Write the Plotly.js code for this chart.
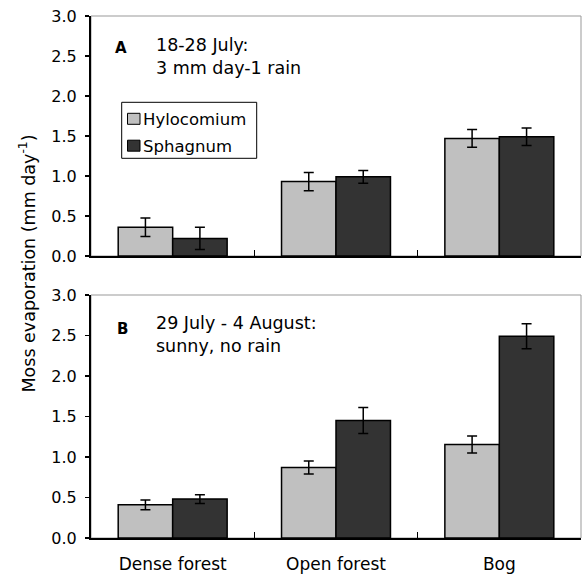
<!DOCTYPE html>
<html>
<head>
<meta charset="utf-8">
<script src="https://cdn.plot.ly/plotly-3.0.1.min.js"></script>
<style>html,body{margin:0;padding:0;background:#fff;}#chart{width:582px;height:574px;}</style>
</head>
<body>
<div id="chart"></div>
<script>
// ---- data ----
const categories = ['Dense forest', 'Open forest', 'Bog'];
const seriesNames = ['Hylocomium', 'Sphagnum'];
const seriesColors = ['#c0c0c0', '#333333'];

// Panel A: 18-28 July
const hyloA = [0.36, 0.93, 1.47];
const hyloAErr = [0.115, 0.115, 0.11];
const sphagA = [0.22, 0.99, 1.49];
const sphagAErr = [0.14, 0.08, 0.11];

// Panel B: 29 July - 4 August
const hyloB = [0.41, 0.87, 1.155];
const hyloBErr = [0.06, 0.08, 0.105];
const sphagB = [0.48, 1.45, 2.49];
const sphagBErr = [0.055, 0.16, 0.155];

const yTickVals = [0, 0.5, 1.0, 1.5, 2.0, 2.5, 3.0];
const yTickText = ['0.0', '0.5', '1.0', '1.5', '2.0', '2.5', '3.0'];

const panelA = {label: 'A', lines: ['18-28 July:', '3 mm day-1 rain']};
const panelB = {label: 'B', lines: ['29 July - 4 August:', 'sunny, no rain']};
const yTitle = 'Moss evaporation (mm day<sup>-1</sup>)';

// ---- layout helpers ----
const W = 582, H = 574;
const M = {l: 91, r: 1, t: 16, b: 36};
const PW = W - M.l - M.r, PH = H - M.t - M.b;
const px = x => (x - M.l) / PW;
const py = y => (H - M.b - y) / PH;

const FONT = 'DejaVu Sans, Arial, sans-serif';

function barTrace(y, err, i, xa, ya) {
  return {
    type: 'bar', x: categories, y: y, name: seriesNames[i],
    xaxis: xa, yaxis: ya, showlegend: false,
    marker: {color: seriesColors[i], line: {color: '#000', width: 1.5}},
    error_y: {type: 'data', array: err, visible: true, color: '#000', thickness: 1.5, width: 5}
  };
}

const data = [
  barTrace(hyloA, hyloAErr, 0, 'x', 'y'),
  barTrace(sphagA, sphagAErr, 1, 'x', 'y'),
  barTrace(hyloB, hyloBErr, 0, 'x2', 'y2'),
  barTrace(sphagB, sphagBErr, 1, 'x2', 'y2')
];

function xaxis(showLabels, anchor) {
  return {
    anchor: anchor, domain: [0, 1], type: 'category',
    range: [-0.5, 2.5], tickson: 'boundaries', ticks: 'inside', ticklen: 6,
    tickwidth: 1.5, tickcolor: '#000',
    showline: true, linecolor: '#000', linewidth: 2,
    showgrid: false, zeroline: false, showticklabels: showLabels,
    tickfont: {family: FONT, size: 17, color: '#000'},
    ticklabelstandoff: 10
  };
}
function yaxis(domain, anchor) {
  return {
    anchor: anchor, domain: domain, range: [0, 3],
    tickvals: yTickVals, ticktext: yTickText,
    ticks: 'outside', ticklen: 4, tickwidth: 1.5, tickcolor: '#000',
    showline: true, linecolor: '#000', linewidth: 2,
    showgrid: false, zeroline: false,
    tickfont: {family: FONT, size: 16, color: '#000'},
    ticklabelstandoff: 5
  };
}

const frame = (xr, yr) => ({
  type: 'rect', xref: xr + ' domain', yref: yr + ' domain',
  x0: 0, x1: 1, y0: 0, y1: 1, layer: 'below',
  line: {color: '#999', width: 1}
});

const shapes = [frame('x', 'y'), frame('x2', 'y2')];

// manual legend
shapes.push({type: 'rect', xref: 'paper', yref: 'paper',
  x0: px(121.7), x1: px(256.7), y0: py(158.3), y1: py(102.3),
  line: {color: '#000', width: 1}, fillcolor: '#fff'});
const legendRows = [118.8, 145.7];
seriesNames.forEach((n, i) => {
  shapes.push({type: 'rect', xref: 'paper', yref: 'paper',
    x0: px(127.5), x1: px(140), y0: py(legendRows[i] + 5.5), y1: py(legendRows[i] - 5.5),
    line: {color: '#000', width: 1}, fillcolor: seriesColors[i]});
});

const annotations = [];
seriesNames.forEach((n, i) => {
  annotations.push({xref: 'paper', yref: 'paper', x: px(141), y: py(legendRows[i] + 0.5),
    xanchor: 'left', yanchor: 'middle', showarrow: false, text: n,
    font: {family: FONT, size: 16.5, color: '#000'}});
});

function panelText(p, labelY, lineYs, labelX) {
  annotations.push({xref: 'paper', yref: 'paper', x: px(labelX), y: py(labelY),
    xanchor: 'center', yanchor: 'middle', showarrow: false, text: '<b>' + p.label + '</b>',
    font: {family: FONT, size: 15, color: '#000'}});
  p.lines.forEach((t, i) => {
    annotations.push({xref: 'paper', yref: 'paper', x: px(154), y: py(lineYs[i]),
      xanchor: 'left', yanchor: 'middle', showarrow: false, text: t,
      font: {family: FONT, size: 17.5, color: '#000'}});
  });
}
panelText(panelA, 48.5, [45, 68.5], 121);
panelText(panelB, 329, [322.5, 345.5], 122.5);

annotations.push({xref: 'paper', yref: 'paper', x: px(27.5), y: py(264),
  xanchor: 'center', yanchor: 'middle', showarrow: false, textangle: -90, text: yTitle,
  font: {family: FONT, size: 17.5, color: '#000'}});

const layout = {
  width: W, height: H, margin: M,
  paper_bgcolor: '#fff', plot_bgcolor: '#fff',
  barmode: 'group', bargap: 0.333, bargroupgap: 0,
  showlegend: false,
  xaxis: xaxis(false, 'y'),
  yaxis: yaxis([py(256), 1], 'x'),
  xaxis2: xaxis(true, 'y2'),
  yaxis2: yaxis([0, py(295)], 'x2'),
  shapes: shapes, annotations: annotations,
  font: {family: FONT, color: '#000'}
};

Plotly.newPlot('chart', data, layout, {displayModeBar: false, staticPlot: true});
</script>
</body>
</html>
